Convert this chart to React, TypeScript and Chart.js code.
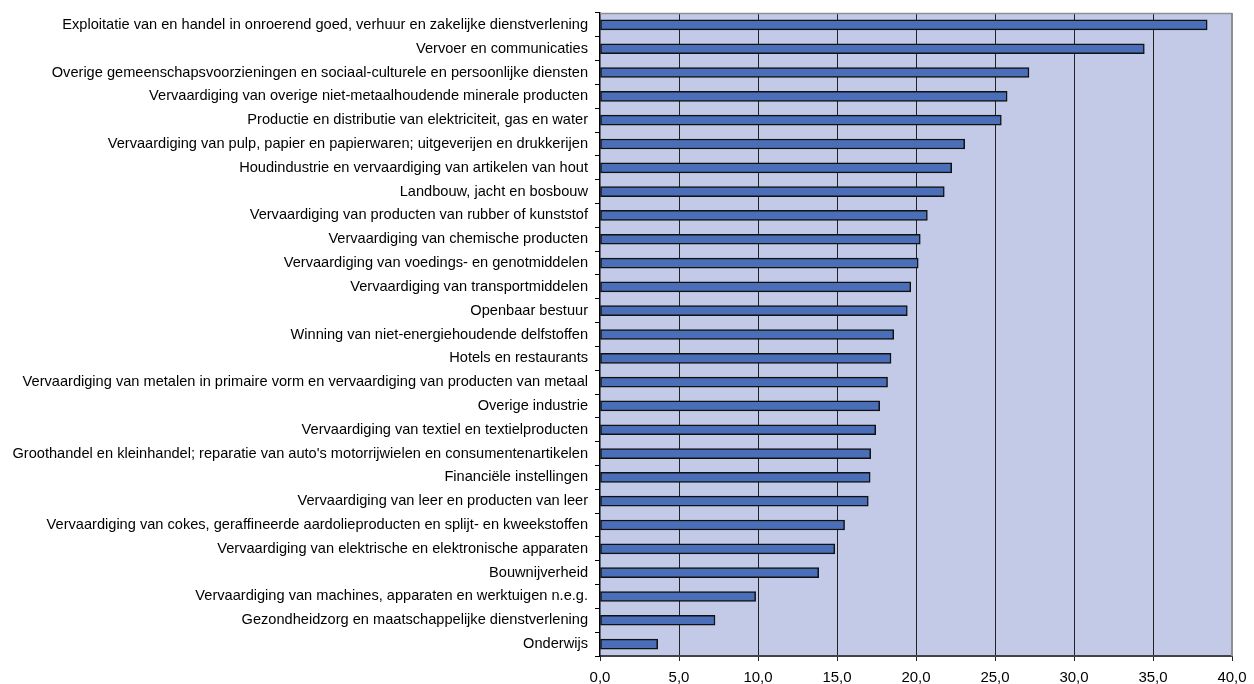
import React, { useEffect, useRef } from "react";
import { Chart, registerables } from "chart.js";

Chart.register(...registerables);

const categories: string[] = [
  "Exploitatie van en handel in onroerend goed, verhuur en zakelijke dienstverlening",
  "Vervoer en communicaties",
  "Overige gemeenschapsvoorzieningen en sociaal-culturele en persoonlijke diensten",
  "Vervaardiging van overige niet-metaalhoudende minerale producten",
  "Productie en distributie van elektriciteit, gas en water",
  "Vervaardiging van pulp, papier en papierwaren; uitgeverijen en drukkerijen",
  "Houdindustrie en vervaardiging van artikelen van hout",
  "Landbouw, jacht en bosbouw",
  "Vervaardiging van producten van rubber of kunststof",
  "Vervaardiging van chemische producten",
  "Vervaardiging van voedings- en genotmiddelen",
  "Vervaardiging van transportmiddelen",
  "Openbaar bestuur",
  "Winning van niet-energiehoudende delfstoffen",
  "Hotels en restaurants",
  "Vervaardiging van metalen in primaire vorm en vervaardiging van producten van metaal",
  "Overige industrie",
  "Vervaardiging van textiel en textielproducten",
  "Groothandel en kleinhandel; reparatie van auto's motorrijwielen en consumentenartikelen",
  "Financiële instellingen",
  "Vervaardiging van leer en producten van leer",
  "Vervaardiging van cokes, geraffineerde aardolieproducten en splijt- en kweekstoffen",
  "Vervaardiging van elektrische en elektronische apparaten",
  "Bouwnijverheid",
  "Vervaardiging van machines, apparaten en werktuigen n.e.g.",
  "Gezondheidzorg en maatschappelijke dienstverlening",
  "Onderwijs",
];

const values: number[] = [
  38.43, 34.45, 27.15, 25.77, 25.4, 23.08, 22.26, 21.79, 20.72, 20.27, 20.14,
  19.67, 19.45, 18.59, 18.42, 18.2, 17.7, 17.45, 17.13, 17.1, 16.98, 15.48,
  14.86, 13.84, 9.85, 7.28, 3.65,
];

const xMin = 0;
const xMax = 40;
const xStep = 5;

const plotBg = "#C3CAE7";
const barFill = "#4A6FB8";

const bgPlugin = {
  id: "plotBg",
  beforeDraw(chart: any) {
    const { ctx, chartArea } = chart;
    ctx.save();
    ctx.fillStyle = plotBg;
    ctx.fillRect(
      chartArea.left,
      chartArea.top,
      chartArea.right - chartArea.left,
      chartArea.bottom - chartArea.top
    );
    ctx.restore();
  },
  beforeDatasetsDraw(chart: any) {
    const { ctx, chartArea } = chart;
    ctx.save();
    ctx.strokeStyle = "#8f8f8f";
    ctx.lineWidth = 1.5;
    ctx.beginPath();
    ctx.moveTo(chartArea.left, chartArea.top + 0.5);
    ctx.lineTo(chartArea.right, chartArea.top + 0.5);
    ctx.stroke();
    ctx.lineWidth = 2;
    ctx.beginPath();
    ctx.moveTo(chartArea.right, chartArea.top);
    ctx.lineTo(chartArea.right, chartArea.bottom);
    ctx.stroke();
    ctx.restore();
  },
};

export default function App() {
  const ref = useRef<HTMLCanvasElement | null>(null);

  useEffect(() => {
    if (!ref.current) return;
    Chart.defaults.font.family = "'Liberation Sans', Arial, sans-serif";
    Chart.defaults.font.size = 12;
    Chart.defaults.color = "#000";
    const chart = new Chart(ref.current, {
      type: "bar",
      data: {
        labels: categories,
        datasets: [
          {
            data: values,
            backgroundColor: barFill,
            borderColor: "#111",
            borderWidth: 1.5,
            borderSkipped: false,
            barThickness: 10,
          },
        ],
      },
      options: {
        indexAxis: "y",
        animation: false,
        responsive: false,
        maintainAspectRatio: false,
        layout: { padding: { top: 13, right: 22, left: 0, bottom: 0 } },
        plugins: {
          legend: { display: false },
          tooltip: { enabled: false },
        },
        scales: {
          x: {
            min: xMin,
            max: xMax,
            afterFit: (s: any) => {
              s.height = 28;
              s.paddingLeft = 0;
              s.paddingRight = 0;
            },
            ticks: {
              stepSize: xStep,
              padding: 8,
              maxRotation: 0,
              font: { size: 15 },
              color: "#000",
              callback: (v: any) => Number(v).toFixed(1).replace(".", ","),
            },
            grid: {
              color: (c: any) =>
                c.tick && (c.tick.value === xMin || c.tick.value === xMax)
                  ? "rgba(0,0,0,0)"
                  : "#222",
              lineWidth: 1,
              tickColor: "#222",
              tickLength: 5,
            },
            border: { display: true, color: "#444", width: 2 },
          },
          y: {
            afterFit: (s: any) => {
              s.width = 600;
              s.paddingTop = 0;
              s.paddingBottom = 0;
            },
            ticks: {
              padding: 7,
              autoSkip: false,
              font: { size: 14.6 },
              color: "#000",
            },
            grid: {
              offset: true,
              drawOnChartArea: false,
              drawTicks: true,
              tickLength: 5,
              color: "#000",
              tickColor: "#000",
            },
            border: { display: true, color: "#000", width: 1.5 },
          },
        },
      },
      plugins: [bgPlugin],
    } as any);
    return () => chart.destroy();
  }, []);

  return (
    <div style={{ position: "fixed", left: 0, top: 0, width: 1254, height: 684, background: "#fff" }}>
      <canvas ref={ref} width={1254} height={684} style={{ width: 1254, height: 684 }} />
    </div>
  );
}
